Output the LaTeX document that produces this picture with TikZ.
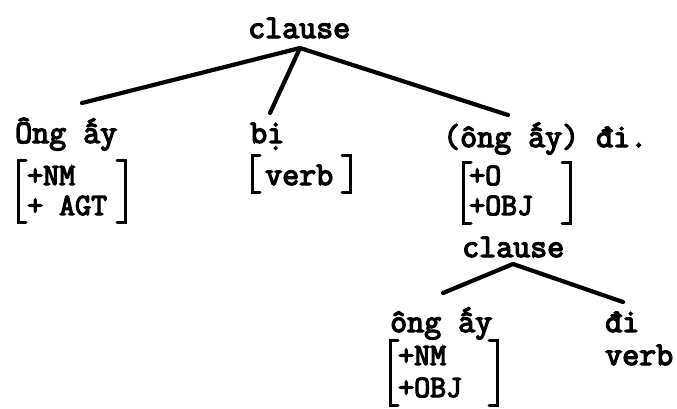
\documentclass[tikz,border=0pt]{standalone}
\usepackage{fontspec}
\newfontfamily\tw[FakeBold=4]{Latin Modern Mono}
\begin{document}
\begin{tikzpicture}[x=1pt,y=-1pt,
  word/.style={font=\fontsize{33}{33}\selectfont\tw, inner sep=0pt, anchor=base west},
  feat/.style={font=\fontsize{31}{31}\selectfont\tw, inner sep=0pt, anchor=base west},
  branch/.style={line width=4.2pt, line cap=round},
  brk/.style={line width=3pt, line cap=round, line join=miter}]
\useasboundingbox (0,0) rectangle (677,408);
% top level
\node[word] (c1) at (248,38) {clause};
\node[word] (w1) at (15,143) {Ông ấy};
\node[word] (w2) at (250,143) {bị};
\node[word] (w3) at (443,147) {(ông ấy) đi.};
\coordinate (a1) at (300,48);
\coordinate (e1) at (82,103);
\coordinate (e2) at (270,113);
\coordinate (e3) at (508,115);
\draw[branch] (a1) -- (e1);
\draw[branch] (a1) -- (e2);
\draw[branch] (a1) -- (e3);
% feature matrices
\node[feat] (f1a) at (27,185) {+NM};
\node[feat] (f1b) at (27,215) {+ AGT};
\draw[brk] (26,160) -- (18,160) -- (18,222) -- (26,222);
\draw[brk] (117,160) -- (125,160) -- (125,222) -- (117,222);
\node[word] (v1) at (265,185) {verb};
\draw[brk] (260,155) -- (252,155) -- (252,192) -- (260,192);
\draw[brk] (342,155) -- (350,155) -- (350,192) -- (342,192);
\node[feat] (f2a) at (469,185) {+O};
\node[feat] (f2b) at (469,215) {+OBJ};
\draw[brk] (471,162) -- (463,162) -- (463,223) -- (471,223);
\draw[brk] (562,162) -- (570,162) -- (570,223) -- (562,223);
% embedded clause
\node[word] (c2) at (462,257) {clause};
\node[word] (w4) at (390,332) {ông ấy};
\node[word] (w5) at (605,332) {đi};
\node[word] (v2) at (605,365) {verb};
\coordinate (a2) at (513,264);
\coordinate (e4) at (443,293);
\coordinate (e5) at (623,302);
\draw[branch] (a2) -- (e4);
\draw[branch] (a2) -- (e5);
\node[feat] (f3a) at (398,365) {+NM};
\node[feat] (f3b) at (398,397) {+OBJ};
\draw[brk] (398,340) -- (390,340) -- (390,405) -- (398,405);
\draw[brk] (489,340) -- (497,340) -- (497,405) -- (489,405);
\end{tikzpicture}
\end{document}
